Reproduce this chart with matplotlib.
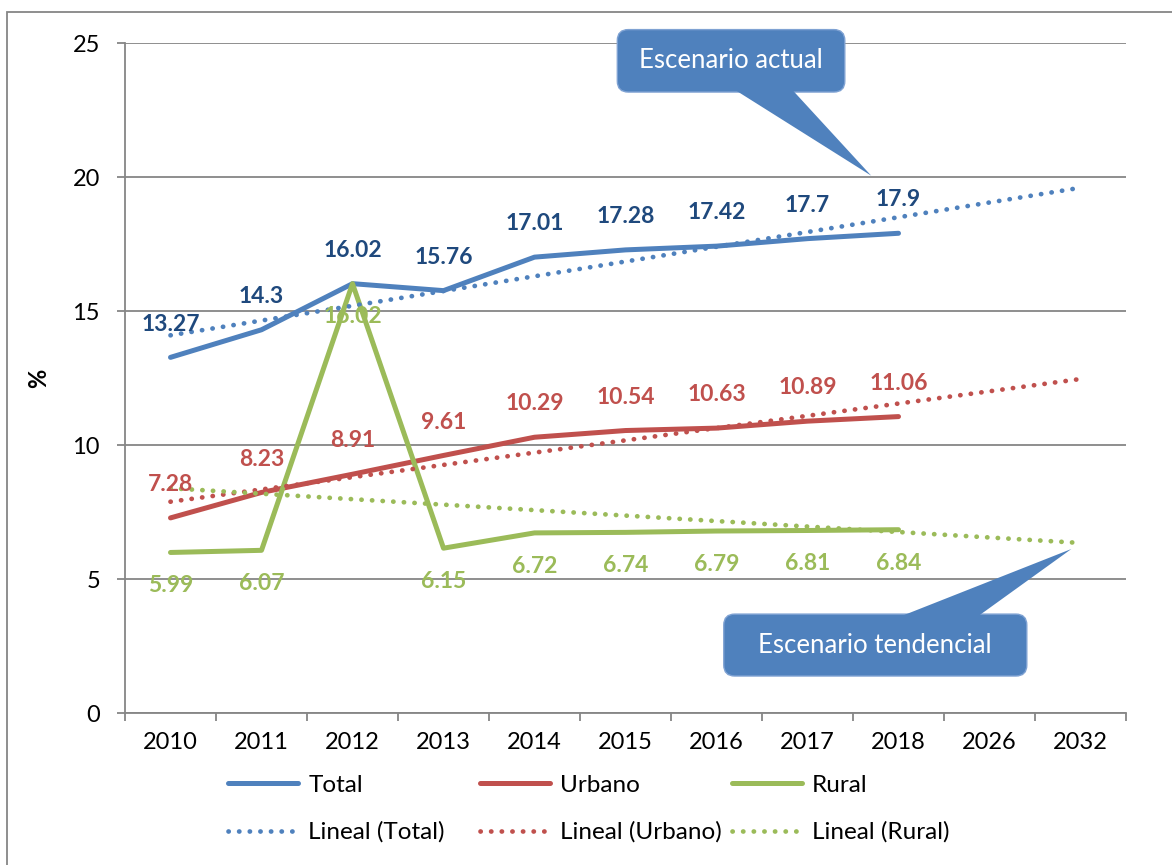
import numpy as np
import matplotlib
matplotlib.use('Agg')
import matplotlib.pyplot as plt
from matplotlib.patches import FancyBboxPatch, Polygon, Rectangle

plt.rcParams['font.family'] = ['Lato', 'DejaVu Sans']

# data
years = ['2010', '2011', '2012', '2013', '2014', '2015', '2016', '2017', '2018', '2026', '2032']
total = [13.27, 14.3, 16.02, 15.76, 17.01, 17.28, 17.42, 17.7, 17.9]
urbano = [7.28, 8.23, 8.91, 9.61, 10.29, 10.54, 10.63, 10.89, 11.06]
rural = [5.99, 6.07, 16.02, 6.15, 6.72, 6.74, 6.79, 6.81, 6.84]

c_total = '#4F81BD'
c_urb = '#C0504D'
c_rur = '#9BBB59'
c_grid = '#868686'

fig = plt.figure(figsize=(11.72, 8.65), dpi=100)
ax = fig.add_axes([125/1172, 1-713/865, 1001/1172, 670/865])

# outer chart border
fig.patches.append(Rectangle((7/1172, -0.01), 1.02, 1-12/865+0.01, transform=fig.transFigure,
                             fill=False, edgecolor=c_grid, lw=1.3))

x = np.arange(len(total))
xx = np.arange(len(years))

series = [(total, c_total, '#1F497D', 'Total', 1),
          (urbano, c_urb, c_urb, 'Urbano', 1),
          (rural, c_rur, c_rur, 'Rural', -1)]

main_handles = []
trend_handles = []
for vals, col, lcol, name, side in series:
    h, = ax.plot(x, vals, color=col, lw=3.6, solid_capstyle='round', solid_joinstyle='round',
                 label=name, zorder=3)
    main_handles.append(h)
for vals, col, lcol, name, side in series:
    k, b = np.polyfit(x, vals, 1)
    t, = ax.plot(xx, k*xx + b, color=col, lw=3.4, linestyle=(0, (0.05, 2.2)),
                 dash_capstyle='round', label='Lineal (%s)' % name, zorder=4)
    trend_handles.append(t)
for vals, col, lcol, name, side in series:
    for xi, v in zip(x, vals):
        ax.annotate('%g' % v, (xi, v), xytext=(0, 24*side), textcoords='offset points',
                    ha='center', va='center', fontsize=16.5, fontweight='bold', color=lcol, zorder=6)

ax.set_xlim(-0.5, 10.5)
ax.set_ylim(0, 25)
ax.set_yticks([0, 5, 10, 15, 20, 25])
ax.yaxis.grid(True, color=c_grid, lw=1.3)
ax.set_axisbelow(True)
ax.set_xticks(xx)
ax.set_xticklabels(years)
ax.set_xticks(np.arange(-0.5, 11, 1), minor=True)
ax.tick_params(axis='x', which='major', length=0, pad=14, labelsize=17)
ax.tick_params(axis='x', which='minor', length=6, width=1.3, color=c_grid, direction='out')
ax.tick_params(axis='y', length=6, width=1.3, color=c_grid, pad=12, labelsize=17)
for s in ['top', 'right']:
    ax.spines[s].set_visible(False)
for s in ['left', 'bottom']:
    ax.spines[s].set_color(c_grid)
    ax.spines[s].set_linewidth(1.3)
ax.set_ylabel('%', fontsize=17, fontweight='bold')
ax.yaxis.set_label_coords(-0.075, 0.5)

# callouts
def callout(text, x0, y0, x1, y1, base, tip):
    box = FancyBboxPatch((x0, y0), x1-x0, y1-y0, boxstyle='round,pad=0,rounding_size=0.12',
                         mutation_aspect=3.4, facecolor=c_total, edgecolor='#7FA2D3', lw=1,
                         clip_on=False, zorder=7)
    ax.add_patch(box)
    ax.add_patch(Polygon([base[0], base[1], tip], closed=True, facecolor=c_total,
                         edgecolor='none', clip_on=False, zorder=7))
    ax.text((x0+x1)/2, (y0+y1)/2, text, color='white', fontsize=18.5, ha='center', va='center', zorder=8)

callout('Escenario actual', 4.91, 23.17, 7.41, 25.5, [(6.18, 23.3), (6.82, 23.3)], (7.7, 20.05))
callout('Escenario tendencial', 6.08, 1.38, 9.41, 3.69, [(8.02, 3.6), (8.87, 3.6)], (9.9, 6.12))

# legend: three columns, each one its own legend
col_x = [228, 480, 732]
for i in range(3):
    hs = [main_handles[i], trend_handles[i]]
    leg = fig.legend(handles=hs, labels=[h.get_label() for h in hs], loc='center left',
                     bbox_to_anchor=(col_x[i]/1172, 1-809/865), frameon=False, fontsize=17.5,
                     handlelength=2.9, handletextpad=0.4, labelspacing=1.05, borderpad=0,
                     borderaxespad=0)

fig.savefig('out.png', dpi=100)
